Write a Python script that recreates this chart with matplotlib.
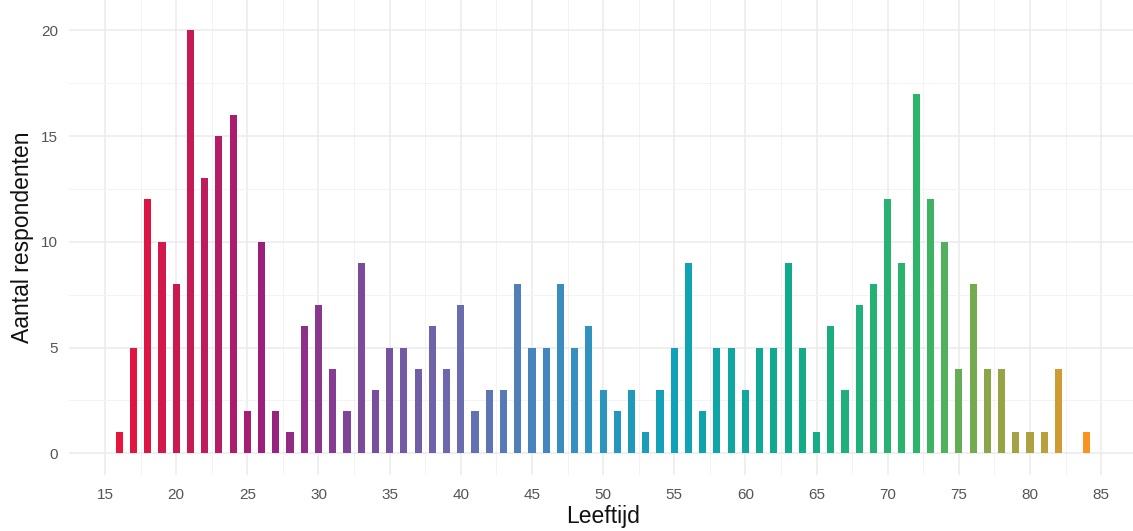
import numpy as np
import matplotlib.pyplot as plt
from matplotlib.colors import LinearSegmentedColormap

# leeftijden en aantallen
leeftijd = list(range(16, 85))
aantal = [1, 5, 12, 10, 8, 20, 13, 15, 16, 2,     # 16-25
          10, 2, 1, 6, 7, 4, 2, 9, 3, 5,          # 26-35
          5, 4, 6, 4, 7, 2, 3, 3, 8, 5,           # 36-45
          5, 8, 5, 6, 3, 2, 3, 1, 3, 5,           # 46-55
          9, 2, 5, 5, 3, 5, 5, 9, 5, 1,           # 56-65
          6, 3, 7, 8, 12, 9, 17, 12, 10, 4,       # 66-75
          8, 4, 4, 1, 1, 1, 4, 0, 1]              # 76-84

x_ticks = list(range(15, 90, 5))
y_ticks = [0, 5, 10, 15, 20]

# kleurverloop: (leeftijd, kleur)
kleur_ankers = [(16, "#e8143c"), (21, "#c41a55"), (26, "#9a1f7c"),
                (33, "#7b4a9b"), (40, "#6a6cb0"), (47, "#3b8dc0"),
                (55, "#0fa2b8"), (63, "#10aa8c"), (72, "#2db46a"),
                (75, "#5fae55"), (77, "#8aa548"), (81, "#b9a03e"),
                (84, "#f7931e")]
pos = [(a - 16) / (84 - 16) for a, _ in kleur_ankers]
cmap = LinearSegmentedColormap.from_list("leeftijd", list(zip(pos, [k for _, k in kleur_ankers])))
norm = (np.array(leeftijd) - 16) / (84 - 16)

plt.rcParams['font.family'] = ['Liberation Sans', 'DejaVu Sans']

fig = plt.figure(figsize=(11.33, 5.31), dpi=100)
ax = fig.add_axes([0.0613, 0.1064, 0.942, 0.8936])

ax.bar(leeftijd, aantal, width=0.5, color=cmap(norm), zorder=3)

ax.set_xlim(12.5, 87.5)
ax.set_ylim(-1, 21.43)
ax.set_xticks(x_ticks)
ax.set_yticks(y_ticks)
ax.set_xticks(np.arange(17.5, 87.5, 5), minor=True)
ax.set_yticks([2.5, 7.5, 12.5, 17.5], minor=True)

ax.grid(which='major', color='#ebebeb', linewidth=1.1, zorder=0)
ax.grid(which='minor', color='#f3f3f3', linewidth=0.7, zorder=0)

for s in ax.spines.values():
    s.set_visible(False)
ax.tick_params(which='both', length=0)
ax.tick_params(axis='both', labelsize=11, labelcolor='#555555')
ax.tick_params(axis='x', pad=10)
ax.tick_params(axis='y', pad=8)

ax.set_xlabel("Leeftijd", fontsize=16.5, color='#111111', labelpad=2)
ax.set_ylabel("Aantal respondenten", fontsize=16.5, color='#111111', labelpad=5)

fig.savefig("out.png", dpi=100)
